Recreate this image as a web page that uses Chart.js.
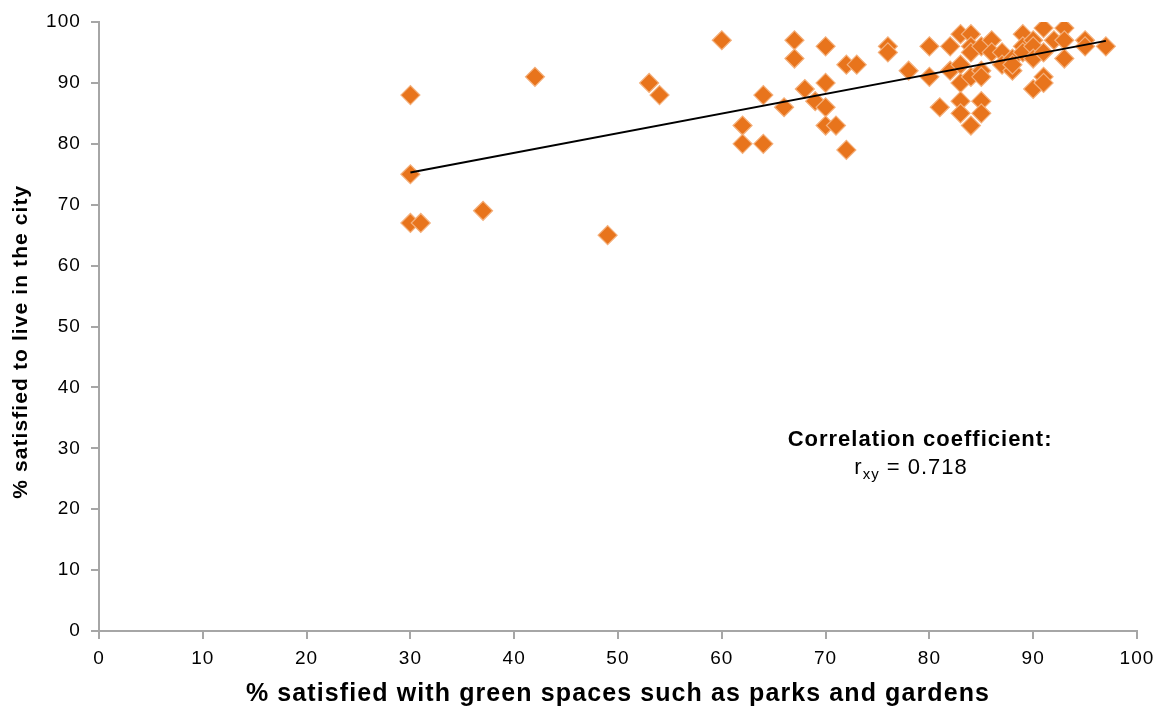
<!DOCTYPE html>
<html>
<head>
<meta charset="utf-8">
<script src="https://cdn.jsdelivr.net/npm/chart.js@4.4.1/dist/chart.umd.min.js"></script>
<style>
  html, body { margin: 0; padding: 0; background: #ffffff; }
  #wrap { width: 1160px; height: 707px; position: relative; }
</style>
</head>
<body>
<div id="wrap"><canvas id="c" width="1160" height="707"></canvas></div>
<script>
// % satisfied with green spaces (x) and % satisfied to live in the city (y)
const greenSpaces = [30,30,30,31,37,42,49,53,54,60,
  62,62,64,64,66,67,67,68,69,70,70,70,70,71,72,73,72,76,76,78,
  80,80,81,82,82,83,83,83,83,83,84,84,84,84,84,85,85,85,85,85,
  86,86,87,87,88,88,88,89,89,89,90,90,90,90,91,91,91,91,92,93,93,93,95,95,97];
const liveInCity = [88,75,67,67,69,91,65,90,88,97,
  83,80,88,80,86,97,94,89,87,96,90,86,83,83,93,93,79,96,95,92,
  96,91,86,96,92,98,93,90,87,85,98,96,95,91,83,96,92,91,87,85,
  97,95,95,93,94,92,93,98,96,95,97,96,94,89,99,95,91,90,97,99,97,94,97,96,96];
// linear trend line endpoints
const trendX = [30, 97];
const trendY = [75.3, 96.9];
const xTicks = [0,10,20,30,40,50,60,70,80,90,100];
const yTicks = [0,10,20,30,40,50,60,70,80,90,100];
const xTitle = '% satisfied with green spaces such as parks and gardens';
const yTitle = '% satisfied to live in the city';
const yTitleAt = 47.5; // y value at which the rotated y-axis title is centred
const noteTitle = 'Correlation coefficient:';
const noteR = 'r';
const noteSub = 'xy';
const noteValue = ' = 0.718';
const noteAt = [79.1, 29.1]; // data position of annotation centre

const points = greenSpaces.map((x, i) => ({ x: x, y: liveInCity[i] }));
const trend = trendX.map((x, i) => ({ x: x, y: trendY[i] }));

const FONT = "'Liberation Sans', Arial, sans-serif";
const axisGrey = '#A6A6A6';
const SPACING = '1.1px';

const spacingPlugin = {
  id: 'spacing',
  beforeUpdate(chart) { chart.ctx.letterSpacing = SPACING; },
  beforeLayout(chart) { chart.ctx.letterSpacing = SPACING; },
  beforeDraw(chart) { chart.ctx.letterSpacing = SPACING; }
};

const yTitlePlugin = {
  id: 'ytitle',
  afterDraw(chart) {
    const ctx = chart.ctx;
    const cy = chart.scales.y.getPixelForValue(yTitleAt);
    ctx.save();
    ctx.letterSpacing = SPACING;
    ctx.translate(21, cy);
    ctx.rotate(-Math.PI / 2);
    ctx.fillStyle = '#000';
    ctx.textAlign = 'center';
    ctx.textBaseline = 'middle';
    ctx.font = 'bold 21px ' + FONT;
    ctx.fillText(yTitle, 0, 0);
    ctx.restore();
  }
};

const notePlugin = {
  id: 'note',
  afterDatasetsDraw(chart) {
    const ctx = chart.ctx;
    const xs = chart.scales.x, ys = chart.scales.y;
    const cx = xs.getPixelForValue(noteAt[0]);
    const cy = ys.getPixelForValue(noteAt[1]);
    ctx.save();
    ctx.letterSpacing = '1px';
    ctx.fillStyle = '#000';
    ctx.textBaseline = 'middle';
    ctx.textAlign = 'center';
    ctx.font = 'bold 22px ' + FONT;
    ctx.fillText(noteTitle, cx, cy - 14);
    ctx.font = '22px ' + FONT;
    const wR = ctx.measureText(noteR).width;
    const wV = ctx.measureText(noteValue).width;
    ctx.font = '15px ' + FONT;
    const wS = ctx.measureText(noteSub).width;
    const total = wR + wS + wV;
    let x0 = cx - 9 - total / 2;
    ctx.textAlign = 'left';
    ctx.font = '22px ' + FONT;
    ctx.fillText(noteR, x0, cy + 14);
    ctx.font = '15px ' + FONT;
    ctx.fillText(noteSub, x0 + wR, cy + 21);
    ctx.font = '22px ' + FONT;
    ctx.fillText(noteValue, x0 + wR + wS, cy + 14);
    ctx.restore();
  }
};

new Chart(document.getElementById('c'), {
  type: 'scatter',
  data: {
    datasets: [
      {
        type: 'line',
        data: trend,
        borderColor: '#000000',
        borderWidth: 2,
        pointRadius: 0,
        fill: false,
        order: 0
      },
      {
        data: points,
        pointStyle: 'rectRot',
        pointRadius: 9.5,
        pointHoverRadius: 9.5,
        backgroundColor: '#E8741C',
        borderColor: '#F4B07C',
        borderWidth: 1.2,
        order: 1
      }
    ]
  },
  options: {
    responsive: false,
    animation: false,
    devicePixelRatio: 1,
    layout: { padding: { top: 22, right: 23, bottom: 0, left: 0 } },
    plugins: { legend: { display: false }, tooltip: { enabled: false } },
    scales: {
      x: {
        type: 'linear', min: 0, max: 100,
        afterBuildTicks(s) { s.ticks = xTicks.map(v => ({ value: v })); },
        afterFit(s) { s.height = 76; s.paddingRight = 0; s.paddingLeft = 0; },
        ticks: { color: '#000', font: { family: FONT, size: 19 }, padding: 8, autoSkip: false, maxRotation: 0 },
        grid: { display: true, drawOnChartArea: false, drawTicks: true, tickLength: 8, color: axisGrey, lineWidth: 2 },
        border: { display: true, color: axisGrey, width: 2 },
        title: { display: true, text: xTitle, color: '#000', font: { family: FONT, size: 25, weight: 'bold' }, padding: { top: 0, bottom: -2 } }
      },
      y: {
        type: 'linear', min: 0, max: 100,
        afterBuildTicks(s) { s.ticks = yTicks.map(v => ({ value: v })); },
        afterFit(s) { s.width = 99; s.paddingTop = 0; s.paddingBottom = 0; },
        ticks: { color: '#000', font: { family: FONT, size: 19 }, padding: 10, autoSkip: false },
        grid: { display: true, drawOnChartArea: false, drawTicks: true, tickLength: 8, color: axisGrey, lineWidth: 2 },
        border: { display: true, color: axisGrey, width: 2 },
        title: { display: false, text: yTitle }
      }
    }
  },
  plugins: [spacingPlugin, yTitlePlugin, notePlugin]
});
</script>
</body>
</html>
